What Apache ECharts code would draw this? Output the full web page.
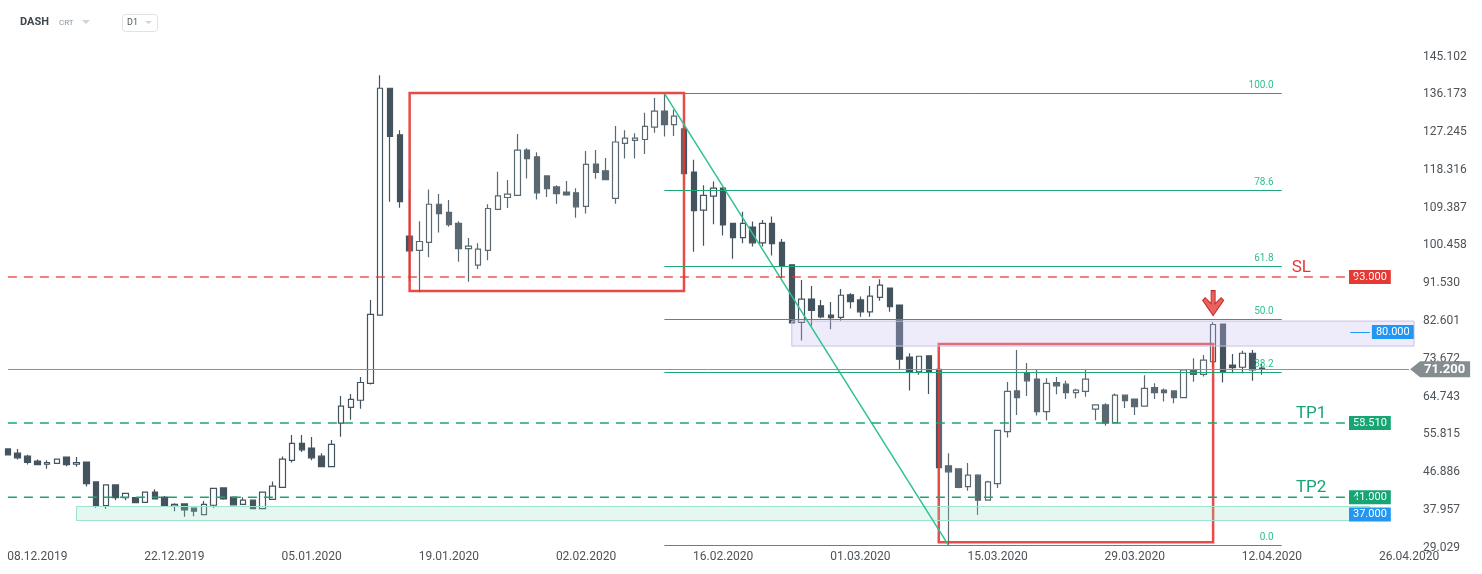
<!DOCTYPE html>
<html>
<head>
<meta charset="utf-8">
<title>DASH D1</title>
<script src="https://cdn.jsdelivr.net/npm/echarts@6/dist/echarts.min.js"></script>
<style>
  html, body { margin: 0; padding: 0; background: #fff; }
  #chart { width: 1482px; height: 574px; }
</style>
</head>
<body>
<div id="chart"></div>
<script>
// daily candles from 05.12.2019 to 11.04.2020
const opens = [52.4, 51.4, 50.7, 49.5, 48.8, 49.0, 50.5, 48.8, 49.3, 44.6,
  39.0, 43.9, 40.9, 40.9, 39.8, 42.2, 41.0, 38.9, 39.4, 38.4,
  36.9, 39.1, 43.2, 41.0, 39.3, 40.3, 38.3, 40.5, 43.3, 49.7,
  53.7, 52.6, 50.7, 48.2, 58.5, 62.2, 63.9, 67.9, 84.0, 137.6,
  126.6, 102.7, 99.3, 101.2, 110.2, 108.3, 105.7, 99.7, 95.8, 99.3,
  109.0, 111.8, 112.3, 123.0, 121.4, 116.9, 114.3, 113.1, 112.9, 109.7,
  119.7, 118.1, 111.6, 124.6, 125.3, 125.5, 128.4, 132.2, 129.0, 128.0,
  117.8, 108.8, 112.1, 114.0, 105.7, 102.3, 104.8, 101.1, 105.7, 101.2,
  95.9, 82.3, 87.8, 86.2, 84.0, 83.5, 88.8, 87.6, 84.8, 88.2,
  90.4, 86.4, 74.1, 70.6, 74.4, 71.2, 48.4, 47.7, 43.5, 46.2,
  40.3, 44.2, 56.5, 66.1, 70.4, 68.9, 61.2, 68.1, 67.7, 65.7,
  66.0, 61.8, 62.8, 58.6, 65.1, 64.2, 62.5, 66.9, 66.3, 66.1,
  64.5, 71.1, 70.0, 73.0, 81.9, 72.2, 71.7, 75.0, 71.5];
const closes = [51.0, 50.3, 49.2, 48.7, 49.2, 50.0, 48.7, 49.2, 44.2, 38.9,
  43.9, 40.9, 41.9, 39.7, 42.2, 40.6, 38.9, 39.3, 38.0, 37.7,
  39.3, 43.1, 40.6, 39.2, 40.3, 38.3, 42.2, 43.6, 50.0, 53.7,
  52.2, 50.3, 48.2, 53.5, 62.5, 64.1, 68.1, 84.2, 137.6, 126.2,
  110.8, 99.2, 101.4, 110.2, 108.0, 105.4, 99.7, 100.3, 99.6, 109.2,
  112.2, 112.6, 123.0, 121.0, 112.9, 113.9, 112.7, 112.4, 109.6, 119.6,
  117.7, 116.0, 124.9, 125.8, 125.8, 128.6, 132.2, 129.0, 131.0, 117.4,
  108.7, 112.3, 114.0, 105.3, 102.3, 105.7, 101.1, 105.7, 100.9, 95.5,
  82.2, 87.8, 85.1, 83.6, 83.4, 88.7, 87.2, 84.8, 88.5, 91.1,
  86.0, 73.6, 70.6, 74.3, 70.6, 48.0, 47.0, 43.3, 46.2, 40.3,
  44.6, 56.8, 66.0, 64.5, 68.5, 61.2, 67.9, 67.3, 65.7, 66.3,
  68.9, 62.8, 58.5, 65.1, 63.8, 62.4, 66.7, 65.7, 65.7, 64.5,
  71.1, 70.0, 73.4, 81.8, 70.6, 71.6, 75.0, 71.1, 71.2];
const lows = [50.9, 49.9, 48.7, 48.6, 47.7, 48.9, 48.3, 48.2, 43.5, 38.5,
  38.3, 40.3, 40.3, 39.6, 39.7, 40.5, 38.7, 37.7, 36.4, 36.5,
  36.8, 38.5, 40.4, 39.1, 39.2, 38.2, 38.2, 40.4, 43.2, 49.2,
  51.7, 49.7, 48.1, 48.1, 55.3, 59.3, 61.9, 67.6, 83.9, 110.8,
  109.4, 92.1, 89.4, 97.7, 103.5, 104.9, 96.6, 91.9, 94.9, 97.0,
  108.9, 109.3, 112.2, 116.3, 111.3, 111.9, 110.3, 112.2, 107.0, 108.0,
  116.2, 115.9, 110.3, 121.0, 121.0, 122.1, 127.1, 126.2, 126.3, 117.3,
  99.0, 100.4, 105.5, 102.8, 97.3, 101.0, 100.2, 100.2, 98.1, 92.7,
  82.1, 78.0, 81.5, 83.3, 80.7, 82.7, 85.6, 83.6, 83.6, 87.4,
  84.8, 71.2, 66.2, 69.9, 65.4, 47.9, 29.7, 43.1, 42.5, 36.8,
  40.2, 43.2, 55.1, 60.4, 64.9, 60.3, 59.2, 65.3, 64.2, 64.4,
  64.7, 59.2, 57.9, 58.5, 62.1, 60.4, 62.4, 64.2, 63.6, 63.2,
  64.4, 68.3, 69.5, 71.8, 68.1, 70.3, 70.3, 68.5, 69.9];
const highs = [52.5, 52.4, 51.0, 49.9, 49.7, 50.1, 50.6, 50.5, 49.4, 44.6,
  44.0, 44.0, 42.0, 41.0, 42.3, 42.9, 41.3, 39.6, 39.5, 38.5,
  40.1, 43.2, 43.3, 41.1, 41.0, 40.4, 42.3, 44.7, 50.6, 55.7,
  55.7, 55.2, 51.4, 54.5, 64.9, 65.4, 69.4, 87.6, 140.7, 137.7,
  127.7, 113.6, 106.2, 113.7, 112.6, 111.2, 106.2, 102.2, 101.0, 110.2,
  117.9, 115.9, 126.8, 123.4, 122.5, 117.0, 114.7, 115.7, 114.0, 122.8,
  123.0, 121.1, 128.7, 127.7, 127.0, 131.8, 135.3, 136.5, 132.5, 128.2,
  120.7, 114.7, 115.6, 114.2, 105.8, 108.4, 106.1, 106.5, 107.3, 102.0,
  96.0, 92.3, 90.9, 87.6, 87.1, 90.2, 89.2, 88.4, 90.9, 92.5,
  90.5, 86.5, 75.0, 74.4, 74.4, 71.3, 51.4, 47.8, 49.1, 46.4,
  44.9, 56.9, 68.2, 75.8, 72.7, 71.1, 69.1, 69.4, 68.5, 66.6,
  71.1, 62.9, 63.2, 65.5, 65.2, 64.3, 69.8, 67.9, 66.7, 66.2,
  71.2, 73.8, 74.6, 82.3, 82.0, 74.8, 75.6, 75.8, 72.5];

const xTickLabels = ['08.12.2019', '22.12.2019', '05.01.2020', '19.01.2020', '02.02.2020',
  '16.02.2020', '01.03.2020', '15.03.2020', '29.03.2020', '12.04.2020', '26.04.2020'];
const yTicks = [29.029, 37.957, 46.886, 55.815, 64.743, 73.672, 82.601,
  91.530, 100.458, 109.387, 118.316, 127.245, 136.173, 145.102];

// fibonacci retracement of the 10.02 high -> 10.03 low move
const fibLabels = ['100.0', '78.6', '61.8', '50.0', '38.2', '0.0'];
const fibValues = [136.4, 113.5, 95.6, 83.0, 70.4, 29.6];

const slLevel = 93.0;
const tp1Level = 58.51;
const tp2Level = 41.0;
const lastPrice = 71.2;
const resistZone = [76.7, 82.6];   // 80.000 zone
const supportZone = [35.5, 38.8];  // 37.000 zone
const rangeBox1 = [89.7, 136.5];
const rangeBox2 = [30.35, 77.2];

// category axis: one slot per calendar day, padded to 26.04.2020
const dates = [];
for (let i = 0; i < 144; i++) {
  const d = new Date(Date.UTC(2019, 11, 5 + i));
  const dd = String(d.getUTCDate()).padStart(2, '0');
  const mm = String(d.getUTCMonth() + 1).padStart(2, '0');
  dates.push(dd + '.' + mm + '.' + d.getUTCFullYear());
}
const idx = s => dates.indexOf(s);

const candleData = opens.map((o, i) => [o, closes[i], lows[i], highs[i]]);

const RED = '#e53935';
const GREEN = '#17a673';
const FIB = '#1fa874';
const BLUE = '#2196f3';
const CANDLE = '#44545f';

const fibStart = idx('10.02.2020');
const fibEnd = idx('13.04.2020');
const fibLow = idx('10.03.2020');
const tagEnd = idx('22.04.2020');

// price box sitting at the right end of a level
function priceBox(v, text, bg, lineWidth, fromOffset) {
  return [
    { coord: [tagEnd - fromOffset, v],
      lineStyle: { color: bg, width: lineWidth, type: 'solid' },
      label: {
        show: true, position: 'end', distance: 2, formatter: text,
        backgroundColor: bg, color: '#fff', fontSize: 11, padding: [2, 4, 1, 4]
      } },
    { coord: [tagEnd, v] }
  ];
}

// dashed level from the left edge to the price box, as its own line series
function levelSeries(name, v, color) {
  return {
    name: name,
    type: 'line',
    data: [[0, v], [tagEnd, v]],
    symbol: 'none',
    silent: true,
    z: 4,
    lineStyle: { color: color, width: 1.4, type: [9, 7] }
  };
}

const chartDom = document.getElementById('chart');
const myChart = echarts.init(chartDom);

const option = {
  animation: false,
  textStyle: { fontFamily: 'Roboto' },
  grid: { left: 3, right: 68, top: 40, bottom: 26, containLabel: false },
  xAxis: {
    type: 'category',
    data: dates,
    boundaryGap: true,
    axisLine: { show: false },
    axisTick: { show: false },
    splitLine: { show: false },
    axisLabel: {
      interval: (i, v) => xTickLabels.includes(v),
      color: '#4d5358',
      fontSize: 12,
      margin: 3
    }
  },
  yAxis: {
    type: 'value',
    position: 'right',
    min: 29,
    max: 149,
    axisLine: { show: false },
    axisTick: { show: false },
    splitLine: { show: false },
    axisLabel: {
      customValues: yTicks,
      formatter: v => v.toFixed(3),
      color: '#4d5358',
      fontSize: 12,
      align: 'left',
      margin: 9
    }
  },
  graphic: [
    { type: 'text', left: 20, top: 17, style: { text: 'DASH', font: 'bold 11px Roboto', fill: '#3d474f' } },
    { type: 'text', left: 59, top: 19, style: { text: 'CRT', font: '8px Roboto', fill: '#8595a2' } },
    { type: 'polygon', shape: { points: [[82, 20], [90, 20], [86, 24]] }, style: { fill: '#cfd4d8' } },
    { type: 'rect', shape: { x: 122.5, y: 14.5, width: 35, height: 17, r: 3 },
      style: { fill: '#fff', stroke: '#dfe3e6', lineWidth: 1 } },
    { type: 'text', left: 127, top: 18, style: { text: 'D1', font: '9px Roboto', fill: '#4a545b' } },
    { type: 'polygon', shape: { points: [[145, 21], [152, 21], [148.5, 24]] }, style: { fill: '#cfd4d8' } }
  ],
  series: [
    {
      name: 'DASH',
      type: 'candlestick',
      data: candleData,
      barWidth: 6,
      itemStyle: {
        color: '#ffffff',
        color0: CANDLE,
        borderColor: CANDLE,
        borderColor0: CANDLE,
        borderWidth: 1.2
      },
      markArea: {
        z: 3,
        silent: true,
        data: [
          [{ xAxis: idx('15.01.2020'), yAxis: rangeBox1[1],
             itemStyle: { color: 'rgba(255,255,255,0.12)', borderColor: 'rgba(229,57,53,0.9)', borderWidth: 2.5 } },
           { xAxis: idx('12.02.2020'), yAxis: rangeBox1[0] }],
          [{ xAxis: idx('09.03.2020'), yAxis: rangeBox2[1],
             itemStyle: { color: 'rgba(255,255,255,0.12)', borderColor: 'rgba(229,57,53,0.9)', borderWidth: 2.5 } },
           { xAxis: idx('06.04.2020'), yAxis: rangeBox2[0] }],
          [{ xAxis: idx('23.02.2020'), yAxis: resistZone[1],
             itemStyle: { color: 'rgba(200,190,240,0.3)', borderColor: '#cbbfe6', borderWidth: 1 } },
           { yAxis: resistZone[0] }],
          [{ xAxis: idx('12.12.2019'), yAxis: supportZone[1],
             itemStyle: { color: 'rgba(150,225,200,0.25)', borderColor: '#9fe3cc', borderWidth: 1 } },
           { xAxis: tagEnd, yAxis: supportZone[0] }]
        ]
      },
      markLine: {
        z: 4,
        silent: true,
        symbol: ['none', 'none'],
        label: { show: false },
        data: [
          [{ coord: [0, lastPrice], lineStyle: { color: '#8c9396', width: 1, type: 'solid' }, label: { show: false } },
           { coord: [dates.length - 1, lastPrice] }],
          priceBox(slLevel, '93.000', RED, 0, 0.2),
          priceBox(tp1Level, '58.510', GREEN, 0, 0.2),
          priceBox(tp2Level, '41.000', GREEN, 0, 0.2),
          priceBox(80.0, '80.000', BLUE, 1, 2),
          priceBox(36.9, '37.000', BLUE, 1, 0.4),
          // trend line from the high to the low
          [{ coord: [fibStart, fibValues[0]], lineStyle: { color: '#2ec28f', width: 1.5, type: 'solid' } },
           { coord: [fibLow, fibValues[5]] }]
        ].concat(fibValues.map((v, k) => [
          { coord: [fibStart, v], lineStyle: { color: FIB, width: 1, type: 'solid' },
            label: { show: true, position: 'insideEndTop', distance: [8, 3], formatter: fibLabels[k],
                     color: '#33bf8c', fontSize: 10 } },
          { coord: [fibEnd, v] }
        ]))
      },
      markPoint: {
        z: 5,
        silent: true,
        data: [
          { coord: [idx('15.04.2020'), slLevel], symbol: 'rect', symbolSize: 1, itemStyle: { color: 'rgba(0,0,0,0)' },
            label: { show: true, position: 'top', distance: 0, formatter: 'SL', color: RED, fontSize: 17 } },
          { coord: [idx('16.04.2020'), tp1Level], symbol: 'rect', symbolSize: 1, itemStyle: { color: 'rgba(0,0,0,0)' },
            label: { show: true, position: 'top', distance: 0, formatter: 'TP1', color: GREEN, fontSize: 17 } },
          { coord: [idx('16.04.2020'), tp2Level], symbol: 'rect', symbolSize: 1, itemStyle: { color: 'rgba(0,0,0,0)' },
            label: { show: true, position: 'top', distance: 0, formatter: 'TP2', color: GREEN, fontSize: 17 } },
          { coord: [idx('06.04.2020'), 86.85],
            symbol: 'path://M8.5,0 L12.5,0 L12.5,13 L18.5,7 L21,9.5 L10.5,24.7 L0,9.5 L2.5,7 L8.5,13 Z',
            symbolSize: [21, 25],
            itemStyle: { color: '#e8625f', borderColor: '#c62828', borderWidth: 1 },
            label: { show: false } }
        ]
      }
    },
    levelSeries('SL', slLevel, 'rgba(229,57,53,0.85)'),
    levelSeries('TP1', tp1Level, GREEN),
    levelSeries('TP2', tp2Level, GREEN)
  ]
};

myChart.setOption(option);

// last price tag pinned to the 71.200 level on the price scale
const py = myChart.convertToPixel({ yAxisIndex: 0 }, lastPrice);
const px = myChart.convertToPixel({ xAxisIndex: 0 }, dates.length - 1) + 1;
myChart.setOption({
  graphic: option.graphic.concat([
    { type: 'polygon', z: 10,
      shape: { points: [[px, py], [px + 10, py - 8], [px + 60, py - 8], [px + 60, py + 8], [px + 10, py + 8]] },
      style: { fill: '#858d90' } },
    { type: 'text', z: 11, x: px + 14, y: py,
      style: { text: lastPrice.toFixed(3), font: 'bold 13px Roboto', fill: '#fff', verticalAlign: 'middle', textVerticalAlign: 'middle' } }
  ])
});
</script>
</body>
</html>
